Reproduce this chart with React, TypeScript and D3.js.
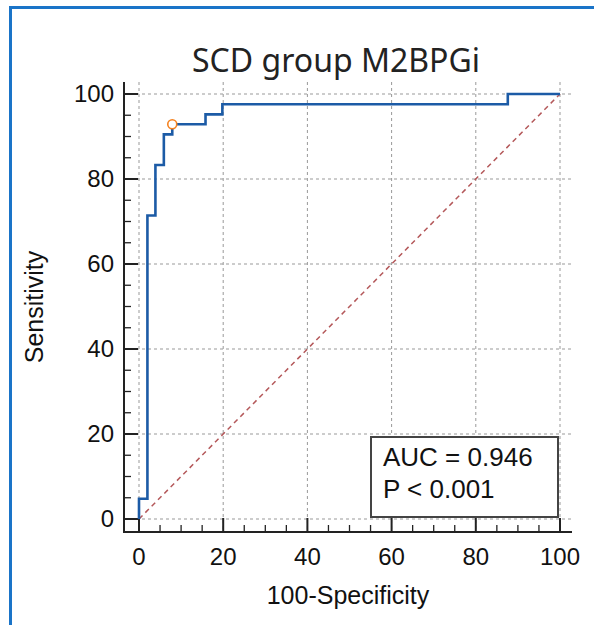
import React, { useEffect, useRef } from "react";
import * as d3 from "d3";

// ROC corner points (100-Specificity, Sensitivity)
const fpr = [0, 0, 2, 3.9, 5.9, 7.9, 15.8, 19.8, 87.6, 100];
const sensitivity = [0, 4.76, 71.4, 83.3, 90.5, 92.9, 95.2, 97.6, 100, 100];
const cutoff = { fpr: 7.9, sens: 92.9 };
const ticks = [0, 20, 40, 60, 80, 100];
const minorTicks = d3.range(0, 101, 5);
const statLines = ["AUC = 0.946", "P < 0.001"];

const App = () => {
  const svgRef = useRef<SVGSVGElement>(null);

  useEffect(() => {
    const W = 594;
    const H = 625;
    const frame = { left: 124, right: 572, top: 82, bottom: 532 };

    const svg = d3.select(svgRef.current).attr("width", W).attr("height", H);
    svg.selectAll("*").remove();

    const x = d3.scaleLinear().domain([0, 100]).range([139, 560]);
    const y = d3.scaleLinear().domain([0, 100]).range([519, 94]);

    // outer blue border (left and top only)
    svg
      .append("path")
      .attr("d", `M10.5,${H} L10.5,7.5 L${W},7.5`)
      .attr("fill", "none")
      .attr("stroke", "#1a74c8")
      .attr("stroke-width", 3);

    // title
    svg
      .append("text")
      .attr("x", 336)
      .attr("y", 72)
      .attr("text-anchor", "middle")
      .style("font-family", "'Noto Sans', sans-serif")
      .style("font-size", "32px")
      .style("fill", "#222")
      .text("SCD group M2BPGi");

    // grid
    const grid = svg.append("g").attr("class", "grid");
    grid
      .selectAll(".vgrid")
      .data(ticks)
      .enter()
      .append("line")
      .attr("x1", (d) => x(d))
      .attr("x2", (d) => x(d))
      .attr("y1", frame.top)
      .attr("y2", frame.bottom)
      .attr("stroke", "#999")
      .attr("stroke-dasharray", "3,3");
    grid
      .selectAll(".hgrid")
      .data(ticks)
      .enter()
      .append("line")
      .attr("x1", frame.left)
      .attr("x2", frame.right)
      .attr("y1", (d) => y(d))
      .attr("y2", (d) => y(d))
      .attr("stroke", "#999")
      .attr("stroke-dasharray", "3,3");

    // diagonal reference
    svg
      .append("line")
      .attr("x1", x(0))
      .attr("y1", y(0))
      .attr("x2", x(100))
      .attr("y2", y(100))
      .attr("stroke", "#b4585a")
      .attr("stroke-width", 1.5)
      .attr("stroke-dasharray", "5,4");

    // axes
    const axis = svg.append("g").attr("stroke", "#222");
    axis
      .append("line")
      .attr("x1", frame.left)
      .attr("x2", frame.left)
      .attr("y1", frame.top)
      .attr("y2", frame.bottom + 1)
      .attr("stroke-width", 2);
    axis
      .append("line")
      .attr("x1", frame.left - 1)
      .attr("x2", frame.right)
      .attr("y1", frame.bottom)
      .attr("y2", frame.bottom)
      .attr("stroke-width", 2);

    axis
      .selectAll(".ytick")
      .data(minorTicks)
      .enter()
      .append("line")
      .attr("x1", frame.left)
      .attr("x2", (d) => frame.left + (d % 20 === 0 ? 14 : 7))
      .attr("y1", (d) => y(d))
      .attr("y2", (d) => y(d))
      .attr("stroke-width", (d) => (d % 20 === 0 ? 2 : 1.3));
    axis
      .selectAll(".xtick")
      .data(minorTicks)
      .enter()
      .append("line")
      .attr("x1", (d) => x(d))
      .attr("x2", (d) => x(d))
      .attr("y1", frame.bottom)
      .attr("y2", (d) => frame.bottom - (d % 20 === 0 ? 14 : 7))
      .attr("stroke-width", (d) => (d % 20 === 0 ? 2 : 1.3));

    const labelFont = "'Liberation Sans', Arial, sans-serif";
    svg
      .selectAll(".ylabel")
      .data(ticks)
      .enter()
      .append("text")
      .attr("x", 114)
      .attr("y", (d) => y(d) + 8)
      .attr("text-anchor", "end")
      .style("font-family", labelFont)
      .style("font-size", "24px")
      .style("fill", "#111")
      .text((d) => d);
    svg
      .selectAll(".xlabel")
      .data(ticks)
      .enter()
      .append("text")
      .attr("x", (d) => x(d))
      .attr("y", 565)
      .attr("text-anchor", "middle")
      .style("font-family", labelFont)
      .style("font-size", "24px")
      .style("fill", "#111")
      .text((d) => d);

    svg
      .append("text")
      .attr("x", (frame.left + frame.right) / 2)
      .attr("y", 604)
      .attr("text-anchor", "middle")
      .style("font-family", labelFont)
      .style("font-size", "25px")
      .style("fill", "#111")
      .text("100-Specificity");
    svg
      .append("text")
      .attr("transform", `translate(43,${(frame.top + frame.bottom) / 2}) rotate(-90)`)
      .attr("text-anchor", "middle")
      .style("font-family", labelFont)
      .style("font-size", "25px")
      .style("fill", "#111")
      .text("Sensitivity");

    // ROC curve
    const pts = fpr.map((f, i) => [f, sensitivity[i]] as [number, number]);
    const line = d3
      .line<[number, number]>()
      .x((d) => x(d[0]))
      .y((d) => y(d[1]))
      .curve(d3.curveStepAfter);
    svg
      .append("path")
      .attr("d", line(pts))
      .attr("fill", "none")
      .attr("stroke", "#1c5ba6")
      .attr("stroke-width", 2.6);

    svg
      .append("circle")
      .attr("cx", x(cutoff.fpr))
      .attr("cy", y(cutoff.sens))
      .attr("r", 4.5)
      .attr("fill", "#fff")
      .attr("stroke", "#f5821f")
      .attr("stroke-width", 1.6);

    // stats box
    const bx2 = x(100) - 2;
    const by2 = y(0) - 2;
    const box = svg.append("g");
    box
      .append("rect")
      .attr("x", bx2 - 187)
      .attr("y", by2 - 80)
      .attr("width", 187)
      .attr("height", 80)
      .attr("fill", "#fff")
      .attr("stroke", "#444")
      .attr("stroke-width", 2);
    box
      .selectAll("text")
      .data(statLines)
      .enter()
      .append("text")
      .attr("x", bx2 - 175)
      .attr("y", (d, i) => by2 - 51 + i * 32)
      .style("font-family", labelFont)
      .style("font-size", "26px")
      .style("fill", "#111")
      .text((d) => d);
  }, []);

  return (
    <svg
      ref={svgRef}
      style={{ position: "absolute", left: 0, top: 0, background: "#fff" }}
    ></svg>
  );
};

export default App;
